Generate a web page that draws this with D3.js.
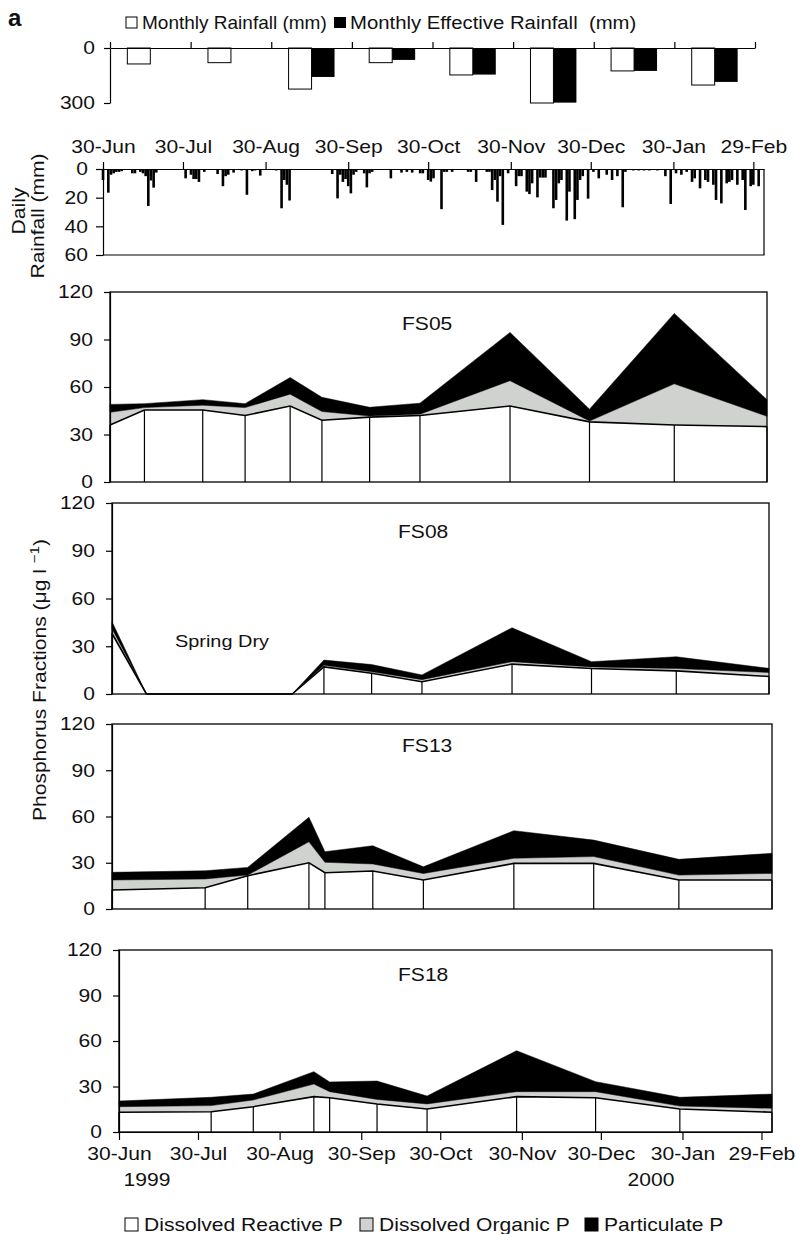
<!DOCTYPE html>
<html>
<head>
<meta charset="utf-8">
<script src="https://cdn.jsdelivr.net/npm/d3@7"></script>
<style>
body { margin: 0; background: #fff; }
text { font-family: "Liberation Sans", Arial, sans-serif; fill: #111; }
</style>
</head>
<body>
<div id="chart-area"></div>
<script>
// Monthly rainfall (mm), Jul 1999 - Feb 2000
let months = ["Jul", "Aug", "Sep", "Oct", "Nov", "Dec", "Jan", "Feb"];
let monthlyRain = [87, 80, 224, 80, 147, 300, 125, 202];
let monthlyEffective = [0, 0, 158, 65, 145, 298, 125, 185];

// Daily rainfall: day offset from 30-Jun-1999 and mm
let rainDays = [0, 2, 3, 4, 5, 6, 7, 11, 12, 14, 15, 16, 17, 18, 19, 20,
	31, 33, 34, 35, 36, 38, 43, 45, 46, 47, 49, 52, 54, 56, 57, 59, 62, 63, 65, 67, 68, 69, 70,
	86, 88, 89, 90, 91, 92, 93, 94, 95, 98, 99, 100, 101, 108,
	112, 114, 116, 119, 120, 122, 123, 124, 127, 128, 129, 131, 137, 138, 140, 144, 145, 146, 147, 148, 149, 150,
	152, 155, 156, 157, 159, 160, 161, 163, 164, 165, 166, 169, 170, 171, 172, 174, 175, 177, 178, 179, 180,
	182, 184, 186, 189, 191, 193, 195, 196, 199, 201, 203, 205, 208, 211, 213, 215, 217, 219, 221, 222,
	224, 226, 227, 229, 230, 232, 234, 235, 236, 238, 240, 241, 243, 244, 246];
let rainMm = [7.7, 16.5, 4, 3, 2, 2, 1.5, 3, 3, 2, 3, 5, 25.8, 8, 13, 2.5,
	6.5, 4, 7, 7, 9, 2, 3.5, 12, 5, 4, 2.5, 1, 18, 1.5, 1, 4.6, 0.7, 0.7, 1, 27.4, 7.7, 11, 22,
	3.5, 20.5, 4, 9, 7, 12, 17, 4, 2, 3, 12.8, 3, 2, 6.5,
	2.5, 2, 2.5, 3, 3, 7.7, 8.8, 6.5, 28, 2, 2, 2, 2, 2, 9, 2, 2, 14.7, 7.7, 22.8, 5, 39,
	3, 12, 5, 5, 15.8, 17.5, 10, 19.8, 6, 6, 6, 27.4, 21.6, 10, 7.7, 36, 15.8, 35, 21.6, 7.7, 5,
	20.7, 2, 6.5, 4, 7.7, 5, 26.7, 2, 1, 1, 1, 1, 1, 5, 24.4, 3, 4, 2, 9, 6.5,
	13.5, 7.7, 9, 11, 21.6, 24, 10, 9, 7.7, 11, 7.7, 28.6, 12, 11, 12];

let dateTicks = ["1999-06-30", "1999-07-30", "1999-08-30", "1999-09-30", "1999-10-30",
	"1999-11-30", "1999-12-30", "2000-01-30", "2000-02-29"];

// Phosphorus fractions (ug/l)
let fracKeys = ["drp", "dop", "pp"];
let fracNames = ["Dissolved Reactive P", "Dissolved Organic P", "Particulate P"];
let fracColors = ["#ffffff", "#d0d2d0", "#000000"];

let sites = ["FS05", "FS08", "FS13", "FS18"];

let datesA = ["1999-06-30", "1999-07-13", "1999-08-04", "1999-08-20", "1999-09-06", "1999-09-18",
	"1999-10-06", "1999-10-25", "1999-11-28", "1999-12-28", "2000-01-29", "2000-03-04"];
let datesB = ["1999-06-30", "1999-08-04", "1999-08-20", "1999-09-12", "1999-09-18",
	"1999-10-06", "1999-10-25", "1999-11-28", "1999-12-28", "2000-01-29", "2000-03-04"];

let fs05Drp = [36, 45.5, 45.5, 42, 48, 39, 41, 42, 48, 38, 36, 35];
let fs05Dop = [8, 1.5, 3, 5, 7.5, 5.5, 0.7, 0.8, 16, 0.5, 26, 6.5];
let fs05Pp = [5, 2.5, 3.5, 2.5, 10.5, 9, 5.5, 7, 30.5, 7.5, 44.5, 10.5];

let fs08Drp = [38, 0, 0, 0, 0, 17, 13, 7.7, 18.8, 16, 14.5, 11];
let fs08Dop = [3, 0, 0, 0, 0, 1, 1, 1.3, 1.5, 1, 1.5, 2.5];
let fs08Pp = [4.4, 0, 0, 0, 0, 3.3, 4.5, 3, 21.3, 3.3, 7.4, 2.6];

let fs13Drp = [12.3, 13.8, 21.6, 30, 23.5, 24.6, 18.8, 29.6, 29.6, 18.8, 18.8];
let fs13Dop = [6.5, 5.7, 0.4, 13.6, 6.8, 4.6, 4.2, 3.3, 4.4, 3.2, 4.3];
let fs13Pp = [5, 5.3, 5, 15.9, 6.9, 11.8, 4.4, 17.9, 10.7, 10.2, 13];

let fs18Drp = [13, 13.4, 16.7, 23.3, 22.6, 18.5, 15.2, 23.3, 22.6, 15.2, 13];
let fs18Dop = [3.7, 4, 4.4, 8.3, 4, 3, 3.3, 3.3, 4, 1.9, 2.6];
let fs18Pp = [3.7, 5.5, 3.9, 8.2, 6.4, 12.1, 5.2, 27, 6.6, 5.8, 9.4];

let yTicksP = [0, 30, 60, 90, 120];

// ---------------------------------------------------------------
const SX = 1.17; // the original type is set wide
let parse = d3.timeParse("%Y-%m-%d");
let fmt = d3.timeFormat("%d-%b");
let start = parse("1999-06-30");

let svg = d3.select("#chart-area")
	.append("svg")
	.attr("width", 797)
	.attr("height", 1234);

svg.append("rect").attr("width", 797).attr("height", 1234).attr("fill", "#fff");

function label(parent, x, y, str, size, anchor, sx) {
	return parent.append("text")
		.attr("transform", "translate(" + x + "," + y + ") scale(" + (sx || SX) + ",1)")
		.attr("font-size", size + "px")
		.attr("text-anchor", anchor || "start")
		.text(str);
}

function styleAxis(axisG) {
	axisG.attr("font-size", 18).attr("font-family", null);
	axisG.selectAll("line, path").attr("stroke", "#000").attr("stroke-width", 1.2);
	axisG.selectAll("text").each(function () {
		let t = d3.select(this);
		let x = +t.attr("x") || 0, y = +t.attr("y") || 0;
		t.attr("transform", "translate(" + x + "," + y + ") scale(" + SX + ",1)")
			.attr("x", 0).attr("y", 0);
	});
}

label(svg, 8, 26, "a", 24, "start", 1).attr("font-weight", "bold");

// Monthly rainfall
let monthly = svg.append("g");
monthly.append("rect").attr("x", 126).attr("y", 17).attr("width", 11).attr("height", 11)
	.attr("fill", "#fff").attr("stroke", "#000");
label(monthly, 142, 29, "Monthly Rainfall (mm)", 19, "start", 1);
monthly.append("rect").attr("x", 334).attr("y", 17).attr("width", 12).attr("height", 11).attr("fill", "#000");
label(monthly, 350, 29, "Monthly Effective Rainfall  (mm)", 19, "start", 1.07).style("white-space", "pre");

let xMonth = d3.scaleBand().domain(months).range([110, 755]).paddingInner(0.43).paddingOuter(0.215);
let xSub = d3.scaleBand().domain(["rain", "eff"]).range([0, xMonth.bandwidth()]);
let yMonth = d3.scaleLinear().domain([0, 300]).range([48, 103]);
let xEdge = d3.scaleLinear().domain([0, months.length]).range([110, 755]);

monthly.selectAll(".rain").data(months).enter().append("rect")
	.attr("x", (d) => xMonth(d) + xSub("rain"))
	.attr("y", yMonth(0))
	.attr("width", xSub.bandwidth())
	.attr("height", (d, i) => yMonth(monthlyRain[i]) - yMonth(0))
	.attr("fill", "#fff").attr("stroke", "#000").attr("stroke-width", 1);

monthly.selectAll(".eff").data(months.filter((d, i) => monthlyEffective[i] > 0)).enter().append("rect")
	.attr("x", (d) => xMonth(d) + xSub("eff"))
	.attr("y", yMonth(0))
	.attr("width", xSub.bandwidth())
	.attr("height", (d) => yMonth(monthlyEffective[months.indexOf(d)]) - yMonth(0))
	.attr("fill", "#000");

let mx = monthly.append("g").attr("transform", "translate(0," + yMonth(0) + ")")
	.call(d3.axisTop(xEdge).tickValues(d3.range(months.length + 1)).tickFormat("").tickSize(6).tickSizeOuter(0));
styleAxis(mx);
let my = monthly.append("g").attr("transform", "translate(110,0)")
	.call(d3.axisLeft(yMonth).tickValues([0, 300]).tickSize(6).tickPadding(9).tickSizeOuter(0));
styleAxis(my);

// Daily rainfall
let daily = svg.append("g");
let xDay = d3.scaleTime().domain([start, parse("2000-03-04")]).range([103, 764]);
let yDay = d3.scaleLinear().domain([0, 60]).range([169, 255]);

daily.selectAll("rect").data(rainDays).enter().append("rect")
	.attr("x", (d) => xDay(d3.timeDay.offset(start, d)) - 1.3)
	.attr("y", yDay(0))
	.attr("width", 2.6)
	.attr("height", (d, i) => yDay(rainMm[i]) - yDay(0))
	.attr("fill", "#000");

daily.append("path")
	.attr("d", "M" + xDay.range()[0] + "," + yDay(60) + "H" + xDay.range()[1] + "V" + yDay(0))
	.attr("fill", "none").attr("stroke", "#000").attr("stroke-width", 1.2);

let dx = daily.append("g").attr("transform", "translate(0," + yDay(0) + ")")
	.call(d3.axisTop(xDay).tickValues(dateTicks.map(parse)).tickFormat(fmt).tickSize(7).tickPadding(9).tickSizeOuter(0));
styleAxis(dx);
let dy = daily.append("g").attr("transform", "translate(" + xDay.range()[0] + ",0)")
	.call(d3.axisLeft(yDay).tickValues([0, 20, 40, 60]).tickSize(7).tickPadding(8).tickSizeOuter(0));
styleAxis(dy);

label(daily, 0, 0, "Daily", 18, "middle").attr("transform", "translate(25,211) rotate(-90) scale(" + SX + ",1)");
label(daily, 0, 0, "Rainfall (mm)", 18, "middle").attr("transform", "translate(44,216) rotate(-90) scale(" + SX + ",1)");

// Phosphorus panels
let panelBoxes = [
	{ left: 110, right: 767, top: 292, bottom: 482, lx: 402, ly: 330 },
	{ left: 112, right: 769, top: 503, bottom: 694, lx: 398, ly: 538 },
	{ left: 112, right: 772, top: 724, bottom: 909, lx: 402, ly: 752 },
	{ left: 119, right: 772, top: 950, bottom: 1132, lx: 398, ly: 981 }
];
let siteDates = [datesA, datesA, datesB, datesB];
let siteValues = [
	[fs05Drp, fs05Dop, fs05Pp],
	[fs08Drp, fs08Dop, fs08Pp],
	[fs13Drp, fs13Dop, fs13Pp],
	[fs18Drp, fs18Dop, fs18Pp]
];

sites.forEach((site, si) => {
	let box = panelBoxes[si];
	let g = svg.append("g");
	let x = d3.scaleTime().domain([start, parse("2000-03-04")]).range([box.left, box.right]);
	let y = d3.scaleLinear().domain([0, 120]).range([box.bottom, box.top]);

	let rows = siteDates[si].map((d, i) => {
		let row = { date: parse(d) };
		fracKeys.forEach((k, ki) => { row[k] = siteValues[si][ki][i]; });
		return row;
	});

	let series = d3.stack().keys(fracKeys)(rows);
	let area = d3.area()
		.x((d) => x(d.data.date))
		.y0((d) => y(d[0]))
		.y1((d) => y(d[1]));

	g.selectAll(".layer").data(series).enter().append("path")
		.attr("d", area)
		.attr("fill", (d, i) => fracColors[i])
		.attr("stroke", (d, i) => i == 2 ? "#000" : "none")
		.attr("stroke-width", 0.5);

	g.selectAll(".drop").data(rows).enter().append("line")
		.attr("x1", (d) => x(d.date)).attr("x2", (d) => x(d.date))
		.attr("y1", y(0)).attr("y2", (d) => y(d.drp))
		.attr("stroke", "#000").attr("stroke-width", 1.2);

	g.append("path")
		.datum(rows)
		.attr("d", d3.line().x((d) => x(d.date)).y((d) => y(d.drp)))
		.attr("fill", "none").attr("stroke", "#000").attr("stroke-width", 1.6);

	g.append("rect")
		.attr("x", box.left).attr("y", box.top)
		.attr("width", box.right - box.left).attr("height", box.bottom - box.top)
		.attr("fill", "none").attr("stroke", "#000").attr("stroke-width", 1.3);

	let ya = g.append("g").attr("transform", "translate(" + box.left + ",0)")
		.call(d3.axisLeft(y).tickValues(yTicksP).tickSize(6).tickPadding(11).tickSizeOuter(0));
	styleAxis(ya);

	label(g, box.lx, box.ly, site, 18);

	if (si == 3) {
		let xa = g.append("g").attr("transform", "translate(0," + box.bottom + ")")
			.call(d3.axisBottom(x).tickValues(dateTicks.map(parse)).tickFormat(fmt).tickSize(8).tickPadding(7).tickSizeOuter(0));
		styleAxis(xa);
		label(g, 147, 1186, "1999", 18, "middle");
		label(g, 651, 1186, "2000", 18, "middle");
	}
	if (si == 1) {
		label(g, 175, 647, "Spring Dry", 17);
	}
});

// Y title for the phosphorus panels
let yt = label(svg, 0, 0, "Phosphorus Fractions (\u03bcg l ", 18, "middle")
	.attr("transform", "translate(46,680) rotate(-90) scale(" + SX + ",1)");
yt.append("tspan").attr("font-size", "13px").attr("dy", "-7").text("\u22121");
yt.append("tspan").attr("dy", "7").text(")");

// Legend
let legend = svg.append("g");
let legendX = [125, 360, 585];
fracNames.forEach((name, i) => {
	legend.append("rect")
		.attr("x", legendX[i]).attr("y", 1218).attr("width", 13).attr("height", 13)
		.attr("fill", fracColors[i]).attr("stroke", "#000").attr("stroke-width", 1);
	label(legend, legendX[i] + 19, 1231, name, 18);
});
</script>
</body>
</html>
